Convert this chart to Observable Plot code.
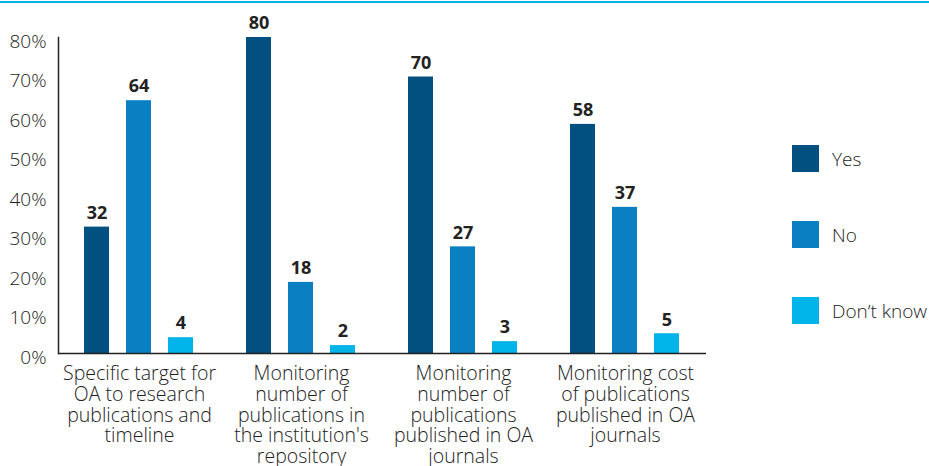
<!DOCTYPE html>
<html><head><meta charset="utf-8">
<script src="https://cdn.jsdelivr.net/npm/d3@7"></script>
<script src="https://cdn.jsdelivr.net/npm/@observablehq/plot@0.6"></script>
<style>
body{margin:0;background:#fff;font-family:"Open Sans", sans-serif;}
#wrap{position:relative;width:929px;height:466px;overflow:hidden}
#topline{position:absolute;left:0;top:1px;width:929px;height:2px;background:#00b4e6}
#legend{position:absolute;left:792px;top:145px}
.item{display:flex;align-items:center;height:27px;margin-bottom:49px}
.sw{width:27px;height:27px;margin-right:13px;flex:none}
.item span{font-size:19px;font-weight:300;color:#222;white-space:nowrap}
</style></head>
<body>
<div id="wrap"><div id="topline"></div><div id="chart"></div><div id="legend"></div></div>
<script>
const categories = [
  "Specific target for OA to research publications and timeline",
  "Monitoring number of publications in the institution's repository",
  "Monitoring number of publications published in OA journals",
  "Monitoring cost of publications published in OA journals"
];
const categoryLabels = [
  "Specific target for\nOA to research\npublications and\ntimeline",
  "Monitoring\nnumber of\npublications in\nthe institution's\nrepository",
  "Monitoring\nnumber of\npublications\npublished in OA\njournals",
  "Monitoring cost\nof publications\npublished in OA\njournals"
];
const series = ["Yes", "No", "Don’t know"];
const yesValues = [32, 80, 70, 58];
const noValues = [64, 18, 27, 37];
const dontKnowValues = [4, 2, 3, 5];
const yTicks = [0, 10, 20, 30, 40, 50, 60, 70, 80];
const colors = ["#02507f", "#0a80c2", "#00b3e8"];

const seriesValues = [yesValues, noValues, dontKnowValues];
const table = categories.flatMap((c, i) =>
  series.map((s, j) => ({category: c, series: s, value: seriesValues[j][i]})));
const labelOf = new Map(categories.map((c, i) => [c, categoryLabels[i]]));

const chart = Plot.plot({
  width: 929, height: 466,
  marginLeft: 56, marginRight: 222, marginTop: 37, marginBottom: 113,
  style: {fontFamily: "'Open Sans', sans-serif", fontSize: "17px", color: "#222", background: "transparent"},
  fx: {domain: categories, padding: 0, axis: null},
  x: {domain: series, paddingInner: 0.4, paddingOuter: 0.59, axis: null},
  y: {domain: [0, 80], axis: null},
  color: {domain: series, range: colors},
  marks: [
    Plot.barY(table, {fx: "category", x: "series", y: "value", fill: "series"}),
    Plot.text(table, {fx: "category", x: "series", y: "value", text: d => String(d.value),
      dy: -14, fontWeight: 700, fontSize: 18, fill: "#222"}),
    Plot.ruleY([0], {stroke: "#222", strokeWidth: 1.5}),
    Plot.axisY(yTicks, {label: null, tickSize: 0, tickPadding: 12, tickFormat: d => d + "%", fontSize: 19, fontWeight: 300, dy: 4, fill: "#222"}),
    Plot.frame({anchor: "left", facetAnchor: "left", stroke: "#222", strokeWidth: 1.5}),
    Plot.text(categories, {fx: d => d, text: d => labelOf.get(d), frameAnchor: "bottom",
      lineAnchor: "top", dy: 12, fontSize: 19.5, fontWeight: 300, lineHeight: 1.06, fill: "#222"})
  ]
});
document.getElementById("chart").appendChild(chart);

const legend = document.getElementById("legend");
series.forEach((s, i) => {
  const item = document.createElement("div");
  item.className = "item";
  const sw = document.createElement("div");
  sw.className = "sw";
  sw.style.background = colors[i];
  const t = document.createElement("span");
  t.textContent = s;
  item.appendChild(sw); item.appendChild(t);
  legend.appendChild(item);
});
</script>
</body></html>
